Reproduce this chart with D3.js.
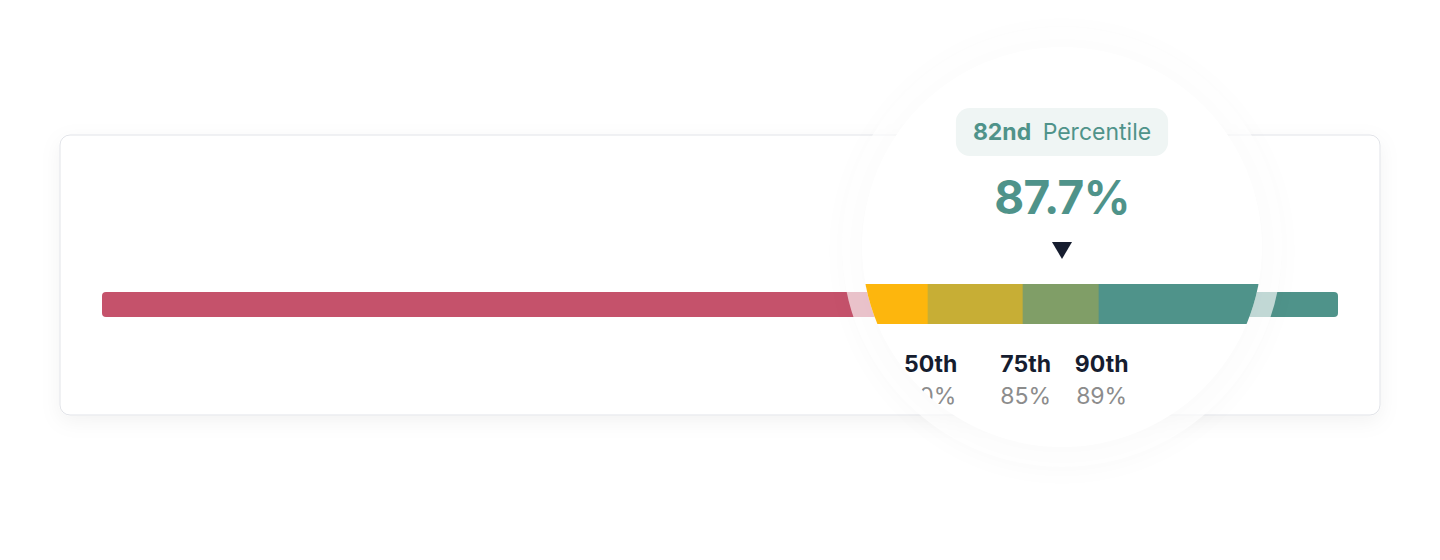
<!DOCTYPE html>
<html><head><meta charset="utf-8">
<script src="https://cdn.jsdelivr.net/npm/d3@7"></script>
<style>
html,body{margin:0;padding:0;background:#fff;}
svg{display:block;font-family:Inter,"Noto Sans",sans-serif;}
</style></head>
<body>
<svg id="chart" width="1440" height="560"></svg>
<script>
// ---- data ----
const percentileNames = ["25th", "50th", "75th", "90th"];
const percentileValues = [74, 80, 85, 89];          // % value at each percentile
const shownPercentiles = ["50th", "75th", "90th"];  // labels visible in the lens
const segmentColors = ["#C5526B", "#FDB60D", "#C7AE35", "#809E67", "#4F938A"];
const scoreValue = 87.7;
const scorePercentile = "82nd";
const domainRange = [0, 100];
const lensFocusValue = 87.07;   // value under the lens centre

// ---- layout ----
const W = 1440, H = 560;
const card = {x: 60, y: 135, w: 1320, h: 280, rx: 10};
const bar = {x0: 102, x1: 1338, y: 292, h: 25, rx: 4};
const lens = {cx: 1062, cy: 247, r: 200, ring: 220, mag: 1.537};
const zoomBar = {y: 284, h: 40};

const svg = d3.select("#chart");
const defs = svg.append("defs");

const x = d3.scaleLinear().domain(domainRange).range([bar.x0, bar.x1]);
const zx = v => lens.cx + lens.mag * (x(v) - x(lensFocusValue));

const edges = [domainRange[0], ...percentileValues, domainRange[1]];
const segs = d3.pairs(edges).map((p, i) => ({a: p[0], b: p[1], color: segmentColors[i]}));

// filters
const cardF = defs.append("filter").attr("id", "cardShadow")
  .attr("x", "-10%").attr("y", "-20%").attr("width", "120%").attr("height", "150%");
cardF.append("feDropShadow").attr("dx", 0).attr("dy", 6).attr("stdDeviation", 10)
  .attr("flood-color", "#000").attr("flood-opacity", 0.05);

const blurF = defs.append("filter").attr("id", "lensBlur")
  .attr("x", "-50%").attr("y", "-50%").attr("width", "200%").attr("height", "200%");
blurF.append("feGaussianBlur").attr("stdDeviation", 20);

defs.append("clipPath").attr("id", "barClip")
  .append("rect").attr("x", bar.x0).attr("y", bar.y).attr("width", bar.x1 - bar.x0)
  .attr("height", bar.h).attr("rx", bar.rx);

defs.append("clipPath").attr("id", "lensClip")
  .append("circle").attr("cx", lens.cx).attr("cy", lens.cy).attr("r", lens.r);

// card
svg.append("rect").attr("x", card.x).attr("y", card.y).attr("width", card.w).attr("height", card.h)
  .attr("rx", card.rx).attr("fill", "#fff").attr("stroke", "#E1E3E8").attr("stroke-width", 1)
  .attr("filter", "url(#cardShadow)");

// base bar
svg.append("g").attr("clip-path", "url(#barClip)")
  .selectAll("rect").data(segs).join("rect")
  .attr("x", d => x(d.a)).attr("width", d => x(d.b) - x(d.a) + 0.5)
  .attr("y", bar.y).attr("height", bar.h).attr("fill", d => d.color);

// lens shadow
svg.append("circle").attr("cx", lens.cx).attr("cy", lens.cy + 4).attr("r", lens.r + 4)
  .attr("fill", "#000").attr("opacity", 0.055).attr("filter", "url(#lensBlur)");

// ring + disk
svg.append("circle").attr("cx", lens.cx).attr("cy", lens.cy).attr("r", lens.ring)
  .attr("fill", "#FFFFFF").attr("fill-opacity", 0.65);
svg.append("circle").attr("cx", lens.cx).attr("cy", lens.cy).attr("r", lens.r)
  .attr("fill", "#fff");

// lens content
const lg = svg.append("g").attr("clip-path", "url(#lensClip)");

lg.append("g").selectAll("rect").data(segs).join("rect")
  .attr("x", d => zx(d.a)).attr("width", d => Math.max(0, zx(d.b) - zx(d.a) + 0.5))
  .attr("y", zoomBar.y).attr("height", zoomBar.h).attr("fill", d => d.color);

// percentile labels
const shown = shownPercentiles.map(n => ({name: n, value: percentileValues[percentileNames.indexOf(n)]}));
lg.append("g").selectAll("text").data(shown).join("text")
  .attr("x", d => zx(d.value) + 3).attr("y", 372).attr("text-anchor", "middle")
  .attr("font-size", 23).attr("font-weight", 700).attr("fill", "#161D2F")
  .text(d => d.name);
lg.append("g").selectAll("text").data(shown).join("text")
  .attr("x", d => zx(d.value) + 3).attr("y", 404).attr("text-anchor", "middle")
  .attr("font-size", 23).attr("font-weight", 400).attr("fill", "#8C8C8C")
  .text(d => d3.format(".0f")(d.value) + "%");

// pointer triangle
lg.append("path")
  .attr("d", d3.line()([[lens.cx - 10, 242], [lens.cx + 10, 242], [lens.cx, 259]]) + "Z")
  .attr("fill", "#161D2F");

// value
lg.append("text").attr("x", lens.cx).attr("y", 214).attr("text-anchor", "middle")
  .attr("font-size", 46).attr("font-weight", 700).attr("letter-spacing", -0.6).attr("fill", "#4F938A")
  .text(d3.format(".1f")(scoreValue) + "%");

// pill
const pill = lg.append("g");
const pillRect = pill.append("rect").attr("fill", "#EFF5F4").attr("rx", 14);
const pt = pill.append("text").attr("x", lens.cx).attr("y", 140).attr("text-anchor", "middle")
  .attr("font-size", 23).attr("fill", "#4F938A");
pt.append("tspan").attr("font-weight", 700).text(scorePercentile);
pt.append("tspan").attr("dx", 5).attr("font-weight", 400).text(" Percentile");
const bb = pt.node().getBBox();
pillRect.attr("x", bb.x - 17).attr("width", bb.width + 34).attr("y", 108).attr("height", 48);
</script>
</body></html>
